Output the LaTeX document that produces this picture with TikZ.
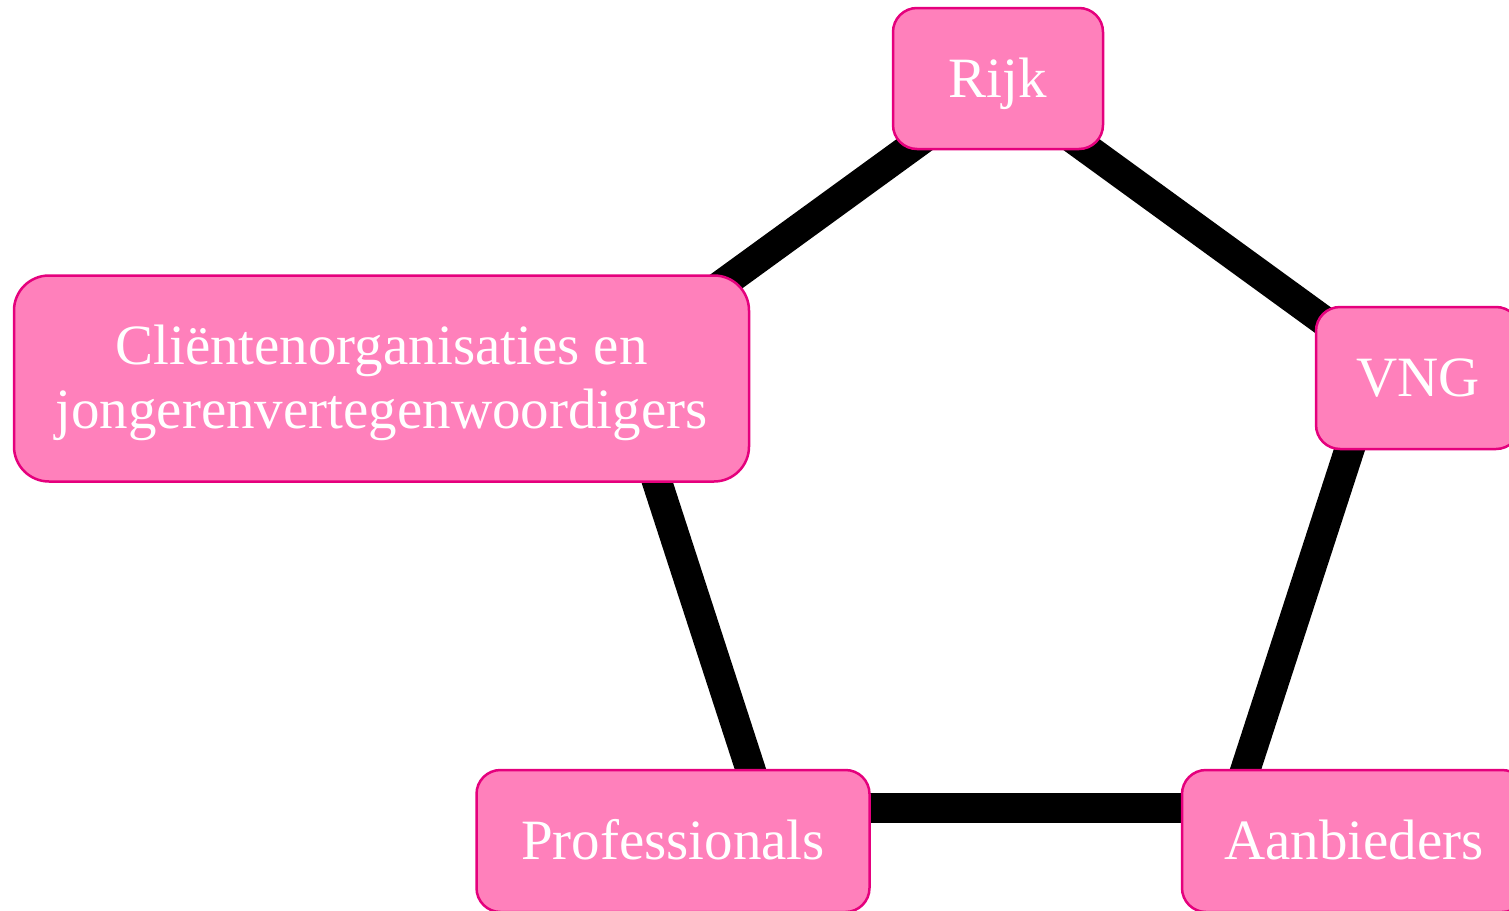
\documentclass[tikz,border=0pt]{standalone}
\usepackage{fontspec}
\setmainfont{Liberation Serif}
\definecolor{boxfill}{HTML}{FF80BB}
\definecolor{boxline}{HTML}{E5007D}
\begin{document}
\begin{tikzpicture}[x=1pt,y=-1pt,
  edge/.style={line width=30pt, black},
  pbox/.style={draw=boxline, fill=boxfill, line width=2.5pt, rounded corners=24pt,
    text=white, font=\fontsize{57}{64}\selectfont, inner sep=0pt,
    text height=37pt, text depth=0pt}]
\useasboundingbox (0,0) rectangle (1509,910);
\clip (0,0) rectangle (1509,910);
\coordinate (T) at (998,84);
\coordinate (R) at (1378.4,360.4);
\coordinate (BR) at (1233.1,807.6);
\coordinate (BL) at (762.9,807.6);
\coordinate (L) at (617.6,360.4);
\draw[edge] (T) -- (R);
\draw[edge] (R) -- (BR);
\draw[edge] (BR) -- (BL);
\draw[edge] (BL) -- (L);
\draw[edge] (L) -- (T);
\node[pbox, minimum width=210pt, minimum height=141pt] (rijk) at (998,78.5) {Rijk};
\node[pbox, minimum width=204pt, minimum height=142pt] (vng) at (1418,378) {VNG};
\node[pbox, minimum width=735pt, minimum height=206pt, rounded corners=35pt, align=center, text height=99pt, text depth=0pt] (client) at (381.5,378.5) {Cliëntenorganisaties en\\jongerenvertegenwoordigers};
\node[pbox, minimum width=393pt, minimum height=142pt] (prof) at (673,841) {Professionals};
\node[pbox, minimum width=344pt, minimum height=142pt] (aanb) at (1354,841) {Aanbieders};
\end{tikzpicture}
\end{document}
